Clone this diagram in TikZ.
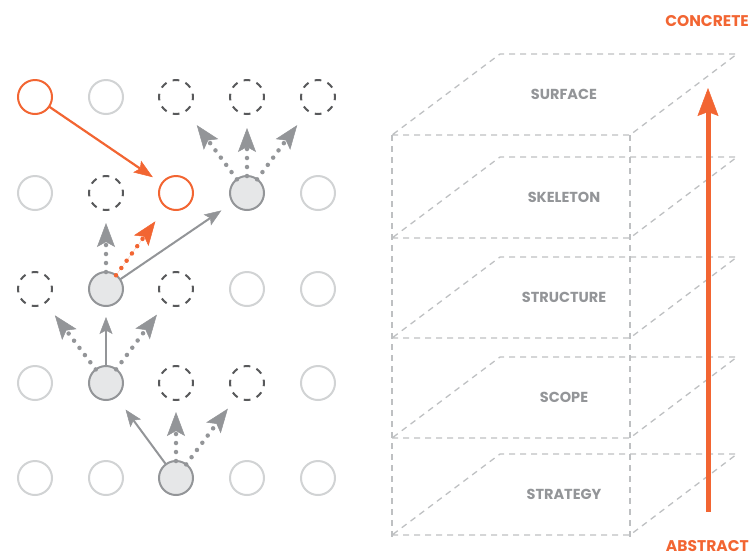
\documentclass[tikz,border=0pt]{standalone}
\usepackage{fontspec}
\setmainfont{Poppins}
\usetikzlibrary{arrows.meta}
\definecolor{orng}{RGB}{242,101,50}
\definecolor{gry}{RGB}{147,149,152}
\definecolor{lgry}{RGB}{209,211,212}
\definecolor{dgry}{RGB}{88,89,91}
\definecolor{fillg}{RGB}{230,231,232}
\definecolor{layg}{RGB}{190,192,194}
\begin{document}
\begin{tikzpicture}[x=1pt,y=-1pt,
  dot/.style={circle,minimum size=34pt,inner sep=0pt,outer sep=0pt,line width=2pt},
  idle/.style={dot,draw=lgry},
  cand/.style={dot,draw=dgry,dash pattern=on 6.7pt off 6.65pt,dash phase=3.35pt},
  act/.style={dot,draw=gry,fill=fillg},
  hit/.style={dot,draw=orng},
  solidarr/.style={draw=gry,line width=2pt,-{Stealth[length=17pt,width=13pt,inset=3.5pt,line width=0.5pt]}},
  dotarr/.style={draw=gry,line width=4.5pt,line cap=round,dash pattern=on 0pt off 9pt,-{Stealth[length=24pt,width=18pt,inset=5pt,line width=0.5pt,line cap=butt]}},
  odotarr/.style={dotarr,draw=orng,fill=orng},
  oarr/.style={draw=orng,line width=2.2pt,-{Stealth[length=19pt,width=14pt,inset=3.5pt,line width=0.5pt]}},
  layer/.style={draw=layg,line width=1.3pt,dash pattern=on 6pt off 5pt},
  lbl/.style={text=gry,font=\bfseries\fontsize{14.5}{15}\selectfont,inner sep=0pt},
  endlbl/.style={text=orng,font=\bfseries\fontsize{15.5}{16}\selectfont,inner sep=0pt,anchor=east},
  bigarr/.style={draw=orng,line width=5pt,-{Stealth[length=28pt,width=21pt,inset=4pt,line width=0.5pt]}}
]
\useasboundingbox (0,0) rectangle (750,558);
% grid of circles
\def\cA{35}\def\cB{106}\def\cC{176}\def\cD{247}\def\cE{318}
\def\rA{97}\def\rB{193}\def\rC{289}\def\rD{383}\def\rE{478}
% row 1
\node[hit]  (r1c1) at (\cA,\rA) {};
\node[idle] (r1c2) at (\cB,\rA) {};
\node[cand] (r1c3) at (\cC,\rA) {};
\node[cand] (r1c4) at (\cD,\rA) {};
\node[cand] (r1c5) at (\cE,\rA) {};
% row 2
\node[idle] (r2c1) at (\cA,\rB) {};
\node[cand] (r2c2) at (\cB,\rB) {};
\node[hit]  (r2c3) at (\cC,\rB) {};
\node[act]  (r2c4) at (\cD,\rB) {};
\node[idle] (r2c5) at (\cE,\rB) {};
% row 3
\node[cand] (r3c1) at (\cA,\rC) {};
\node[act]  (r3c2) at (\cB,\rC) {};
\node[cand] (r3c3) at (\cC,\rC) {};
\node[idle] (r3c4) at (\cD,\rC) {};
\node[idle] (r3c5) at (\cE,\rC) {};
% row 4
\node[idle] (r4c1) at (\cA,\rD) {};
\node[act]  (r4c2) at (\cB,\rD) {};
\node[cand] (r4c3) at (\cC,\rD) {};
\node[cand] (r4c4) at (\cD,\rD) {};
\node[idle] (r4c5) at (\cE,\rD) {};
% row 5
\node[idle] (r5c1) at (\cA,\rE) {};
\node[idle] (r5c2) at (\cB,\rE) {};
\node[act]  (r5c3) at (\cC,\rE) {};
\node[idle] (r5c4) at (\cD,\rE) {};
\node[idle] (r5c5) at (\cE,\rE) {};
% arrows from r5c3
\draw[solidarr,shorten >=16pt] (r5c3) -- (r4c2);
\draw[dotarr,shorten >=12pt] (r5c3) -- (r4c3);
\draw[dotarr,shorten >=15pt] (r5c3) -- (r4c4);
% arrows from r4c2
\draw[solidarr,shorten >=11pt] (r4c2) -- (r3c2);
\draw[dotarr,shorten >=16pt] (r4c2) -- (r3c1);
\draw[dotarr,shorten >=15pt] (r4c2) -- (r3c3);
% arrows from r3c2
\draw[dotarr,shorten >=13pt] (r3c2) -- (r2c2);
\draw[odotarr,shorten >=18pt] (r3c2) -- (r2c3);
\draw[solidarr,shorten >=14pt] (r3c2) -- (r2c4);
% arrows from r2c4
\draw[dotarr,shorten >=18pt] (r2c4) -- (r1c3);
\draw[dotarr,shorten >=14pt] (r2c4) -- (r1c4);
\draw[dotarr,shorten >=18pt] (r2c4) -- (r1c5);
% orange jump
\draw[oarr,shorten >=11pt] (r1c1) -- (r2c3);
% layers
\draw[layer] (392,135) -- (392,538);
\draw[layer] (630,135) -- (630,538);
\foreach \f/\lab in {135/SURFACE,238/SKELETON,338/STRUCTURE,438/SCOPE,535/STRATEGY} {
  \draw[layer] (392,\f) -- (630,\f) -- (737,\f-81) -- (500,\f-81) -- cycle;
  \node[lbl] (L\lab) at (564,\f-41) {\lab};
}
% concrete / abstract
\coordinate (abs) at (708,512);
\coordinate (con) at (708,88);
\draw[bigarr] (abs) -- (con);
\node[endlbl] (concrete) at (749,21) {CONCRETE};
\node[endlbl] (abstract) at (749,546) {ABSTRACT};
\end{tikzpicture}
\end{document}
